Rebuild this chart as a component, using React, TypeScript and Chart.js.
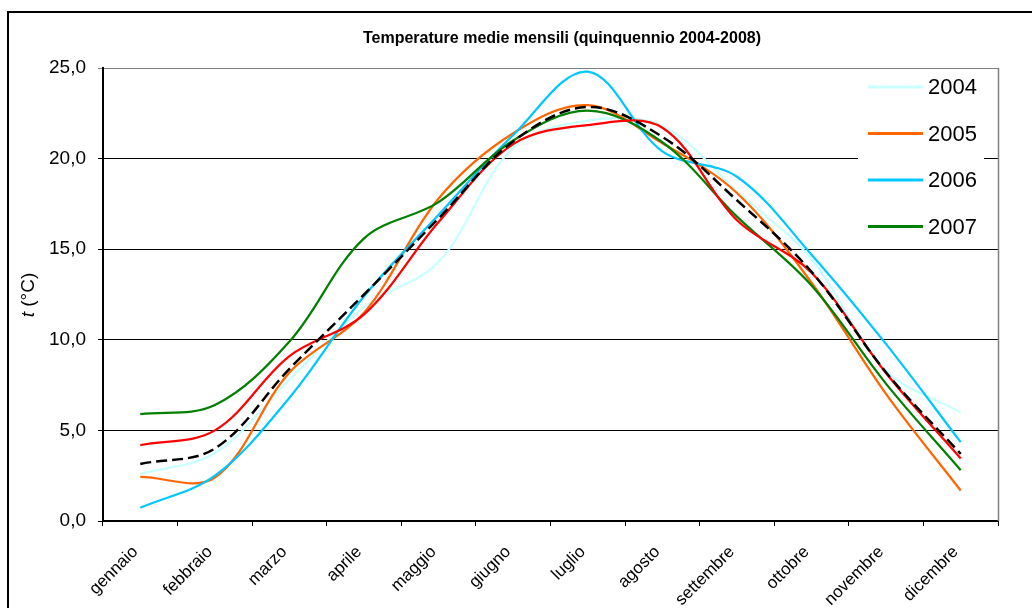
import React, { useEffect, useRef } from 'react';
import { Chart, registerables } from 'chart.js';

Chart.register(...registerables);

const FONT = 'Arial, "Liberation Sans", sans-serif';

const titleText = 'Temperature medie mensili (quinquennio 2004-2008)';
const months = ['gennaio', 'febbraio', 'marzo', 'aprile', 'maggio', 'giugno', 'luglio', 'agosto', 'settembre', 'ottobre', 'novembre', 'dicembre'];

const t2004 = [2.6, 3.75, 7.8, 11.8, 14.3, 20.6, 22.1, 21.8, 18.2, 14.45, 8.3, 6.0];
const t2005 = [2.43, 2.4, 8.2, 11.5, 17.8, 21.4, 22.95, 20.85, 18.1, 13.15, 7.0, 1.68];
const t2006 = [0.73, 2.5, 6.8, 12.4, 16.9, 21.3, 24.8, 20.4, 19.0, 14.7, 9.76, 4.35];
const t2007 = [5.9, 6.4, 9.9, 15.6, 17.6, 21.0, 22.65, 20.9, 16.8, 13.0, 7.57, 2.8];
const t2008 = [4.19, 5.0, 9.1, 11.4, 16.5, 20.8, 21.85, 21.7, 16.6, 13.7, 8.15, 3.45];
const tMedia = [3.15, 4.0, 8.4, 12.5, 16.7, 20.95, 22.85, 21.2, 17.7, 13.75, 8.2, 3.7];

const yMin = 0;
const yMax = 25;
const yStep = 5;

const legendCount = 4;

const decorPlugin = {
  id: 'decor',
  beforeDraw(chart: any) {
    const ctx = chart.ctx;
    ctx.save();
    ctx.fillStyle = '#fff';
    ctx.fillRect(0, 0, chart.width, chart.height);
    ctx.fillStyle = '#000';
    ctx.fillRect(7, 11, chart.width - 7, 2);
    ctx.fillRect(7, 11, 2, chart.height - 11);
    ctx.font = `bold 16px ${FONT}`;
    ctx.textAlign = 'center';
    ctx.textBaseline = 'middle';
    ctx.fillText(titleText, 562, 39);
    // y axis title
    ctx.translate(29, 295);
    ctx.rotate(-Math.PI / 2);
    ctx.textBaseline = 'middle';
    ctx.textAlign = 'left';
    ctx.font = `italic 19px ${FONT}`;
    const w1 = ctx.measureText('t').width;
    ctx.font = `19px ${FONT}`;
    const w2 = ctx.measureText(' (°C)').width;
    const x0 = -(w1 + w2) / 2;
    ctx.font = `italic 19px ${FONT}`;
    ctx.fillText('t', x0, 0);
    ctx.font = `19px ${FONT}`;
    ctx.fillText(' (°C)', x0 + w1, 0);
    ctx.restore();
  },
  beforeDatasetsDraw(chart: any) {
    const ctx = chart.ctx;
    const a = chart.chartArea;
    ctx.save();
    ctx.strokeStyle = '#808080';
    ctx.lineWidth = 1.5;
    ctx.beginPath();
    ctx.moveTo(Math.round(a.right) + 0.5, a.top);
    ctx.lineTo(Math.round(a.right) + 0.5, a.bottom);
    ctx.stroke();
    ctx.restore();
  },
  afterDatasetsDraw(chart: any) {
    const ctx = chart.ctx;
    ctx.save();
    ctx.fillStyle = '#fff';
    ctx.fillRect(858, 71, 126, 170);
    const ds = chart.data.datasets.slice(0, legendCount);
    ds.forEach((d: any, i: number) => {
      const y = 87 + i * 46.5;
      ctx.strokeStyle = d.borderColor;
      ctx.lineWidth = 3;
      ctx.setLineDash([]);
      ctx.beginPath();
      ctx.moveTo(868, y);
      ctx.lineTo(923, y);
      ctx.stroke();
      ctx.fillStyle = '#000';
      ctx.font = `22px ${FONT}`;
      ctx.textAlign = 'left';
      ctx.textBaseline = 'middle';
      ctx.fillText(d.label, 928, y + 1);
    });
    ctx.restore();
  },
};

export default function App() {
  const ref = useRef<HTMLCanvasElement | null>(null);
  useEffect(() => {
    if (!ref.current) return;
    const mk = (label: string, data: number[], color: string, order: number, extra: any = {}) => ({
      label,
      data,
      borderColor: color,
      backgroundColor: color,
      borderWidth: 2.25,
      pointRadius: 0,
      fill: false,
      order,
      ...extra,
    });
    const chart = new Chart(ref.current, {
      type: 'line',
      data: {
        labels: months,
        datasets: [
          mk('2004', t2004, '#C8FFFF', 6),
          mk('2005', t2005, '#FF6600', 5),
          mk('2006', t2006, '#00C8FF', 4),
          mk('2007', t2007, '#008000', 3),
          mk('2008', t2008, '#FF0000', 2),
          mk('media 2004-2008', tMedia, '#000000', 1, { borderDash: [11, 5], borderWidth: 2.5 }),
        ],
      },
      options: {
        responsive: false,
        animation: false,
        devicePixelRatio: 1,
        layout: { padding: { top: 68, right: 34, left: 0, bottom: 0 } },
        plugins: {
          legend: { display: false },
          title: { display: false },
          tooltip: { enabled: false },
        },
        elements: {
          point: { radius: 0 },
          line: { tension: 0.35 },
        },
        scales: {
          x: {
            type: 'category',
            offset: true,
            grid: {
              offset: true,
              drawOnChartArea: false,
              drawTicks: true,
              tickLength: 5,
              color: '#000',
              lineWidth: 1,
            },
            border: { color: '#000', width: 2 },
            ticks: {
              autoSkip: false,
              maxRotation: 45,
              minRotation: 45,
              padding: 16,
              labelOffset: -5,
              color: '#000',
              font: { family: FONT, size: 17 },
            },
            afterFit: (s: any) => {
              s.height = 87;
            },
          },
          y: {
            min: yMin,
            max: yMax,
            ticks: {
              stepSize: yStep,
              padding: 12,
              color: '#000',
              font: { family: FONT, size: 19 },
              callback: (v: any) => Number(v).toFixed(1).replace('.', ','),
            },
            grid: {
              color: (c: any) => (c.tick && c.tick.value === yMax ? '#808080' : '#000'),
              tickLength: 5,
              lineWidth: 1,
            },
            border: { color: '#000', width: 2 },
            afterFit: (s: any) => {
              s.width = 103;
            },
          },
        },
      } as any,
      plugins: [decorPlugin],
    });
    return () => chart.destroy();
  }, []);
  return (
    <div style={{ position: 'fixed', left: 0, top: 0, width: 1032, height: 608, background: '#fff' }}>
      <canvas ref={ref} width={1032} height={608} style={{ display: 'block' }} />
    </div>
  );
}
